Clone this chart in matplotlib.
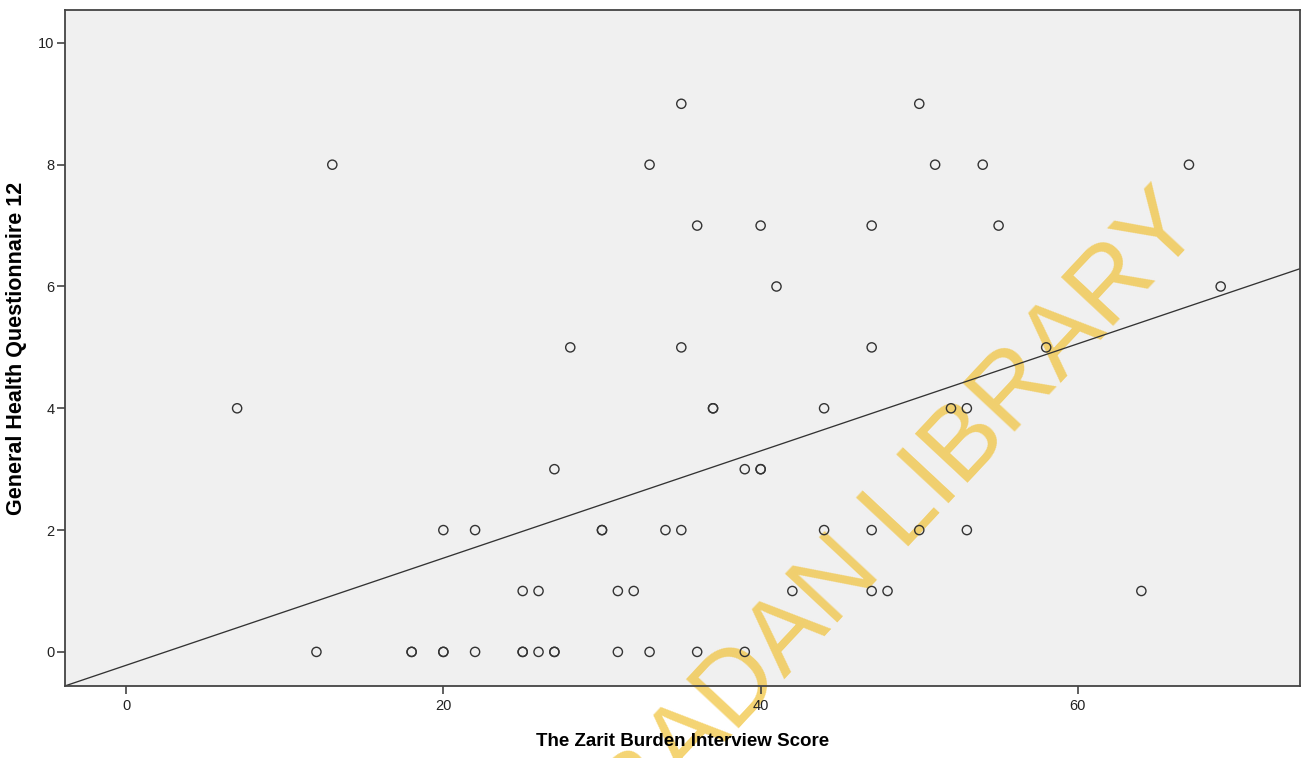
import numpy as np
import matplotlib
matplotlib.use("Agg")
import matplotlib.pyplot as plt

# Zarit burden score (x) vs GHQ-12 (y), one entry per respondent
zbi = [35, 50,
       13, 33, 51, 54, 67,
       36, 40, 47, 55,
       41, 69,
       28, 35, 47, 58,
       7, 37, 37, 44, 52, 53,
       27, 39, 40, 40,
       20, 22, 30, 30, 34, 35, 44, 47, 50, 53,
       25, 26, 31, 32, 42, 47, 48, 64,
       12, 18, 18, 20, 20, 22, 25, 25, 26, 27, 27, 31, 33, 36, 39]
ghq = [9] * 2 + [8] * 5 + [7] * 4 + [6] * 2 + [5] * 4 + [4] * 6 + [3] * 4 + [2] * 10 + [1] * 8 + [0] * 15

# fit line as drawn in the source chart
FIT_INTERCEPT = -0.22
FIT_SLOPE = 0.088

x_ticks = [0, 20, 40, 60]
y_ticks = [0, 2, 4, 6, 8, 10]
XLIM = (-3.85, 74.0)
YLIM = (-0.56, 10.54)

FONT = ["Liberation Sans", "DejaVu Sans"]

fig = plt.figure(figsize=(13.1, 7.58), dpi=100)
ax = fig.add_axes([65 / 1310, 72 / 758, 1235 / 1310, 676 / 758])
ax.set_facecolor("#f0f0f0")

ax.scatter(zbi, ghq, s=44, facecolors="none", edgecolors="#333333", linewidths=1.0, zorder=3)
ax.axline((0, FIT_INTERCEPT), slope=FIT_SLOPE, color="#333333", lw=0.95, zorder=2)

ax.set_xlim(*XLIM)
ax.set_ylim(*YLIM)
ax.set_xticks(x_ticks)
ax.set_yticks(y_ticks)
ax.set_xticklabels([str(v) for v in x_ticks], family=FONT, size=10.5, color="#222222")
ax.set_yticklabels([str(v) for v in y_ticks], family=FONT, size=10.5, color="#222222")
ax.tick_params(axis="x", length=6, width=1.2, color="#444444", pad=3)
ax.tick_params(axis="y", length=6, width=1.2, color="#444444", pad=1.5)
for sp in ax.spines.values():
    sp.set_color("#444444")
    sp.set_linewidth(1.3)

ax.set_xlabel("The Zarit Burden Interview Score", family=FONT,
              fontweight="bold", fontsize=13.5, labelpad=15)
ax.set_ylabel("General Health Questionnaire 12", family=FONT,
              fontweight="bold", fontsize=15.5, labelpad=8)

# library watermark: above the background, beneath marks and labels
ax.text(912 / 1310, 1 - 542 / 758, "IBADAN LIBRARY", family=FONT, transform=fig.transFigure,
        fontsize=75, color="#f0c030", alpha=0.68, rotation=47, rotation_mode="anchor",
        ha="center", va="baseline", zorder=1, clip_on=False)

fig.savefig("out.png", dpi=100, facecolor="white")
